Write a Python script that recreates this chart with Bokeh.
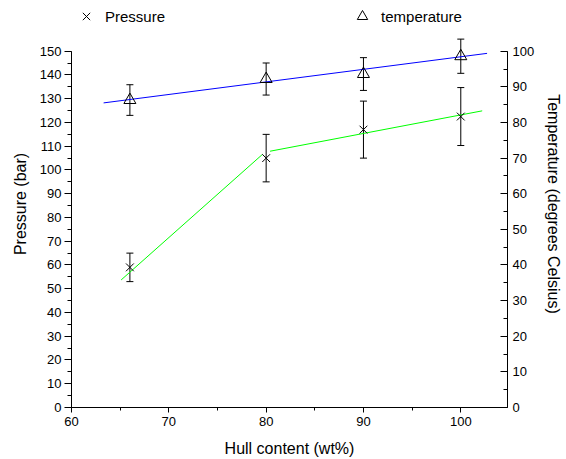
from bokeh.plotting import figure
from bokeh.models import (LinearAxis, Range1d, ColumnDataSource, Whisker, TeeHead,
                          Legend, LegendItem, SingleIntervalTicker)
from bokeh.embed import file_html
from bokeh.resources import INLINE

# ---- data ----
hull = [66, 80, 90, 100]
pressure = [59, 105, 117, 122.5]
pressure_err = [6, 10, 12, 12.2]
temperature = [86.3, 92.2, 93.6, 98.6]
temperature_err = [4.3, 4.5, 4.6, 4.8]

temp_fit_x = [63.3, 102.7]
temp_fit_y = [85.5, 99.4]
press_fit1_x = [65.1, 79.6]
press_fit1_y = [53.7, 106.5]
press_fit2_x = [80.4, 102.2]
press_fit2_y = [107.9, 124.9]

x_label = "Hull content (wt%)"
y_label = "Pressure (bar)"
y2_label = "Temperature (degrees Celsius)"

FONT = "Liberation Sans"

# the frame reaches to the top of the canvas (room for the legend);
# the axes themselves are bounded to 0-150 and 0-100
P_MAX = 150.0
T_MAX = 100.0
TOP_EXTRA = 406.7 / 356.0  # frame height / axis height ratio

p = figure(width=566, height=459, output_backend="svg", toolbar_location=None,
           x_range=Range1d(60, 104.8), y_range=Range1d(0, P_MAX * TOP_EXTRA),
           min_border_left=71, min_border_right=59, min_border_top=0, min_border_bottom=52)
p.extra_y_ranges = {"temp": Range1d(0, T_MAX * TOP_EXTRA)}
p.grid.visible = False
p.outline_line_color = None
p.background_fill_color = "white"

# fit lines
p.line(temp_fit_x, temp_fit_y, color="#0000ff", line_width=1, y_range_name="temp")
p.line(press_fit1_x, press_fit1_y, color="#00ff00", line_width=1)
p.line(press_fit2_x, press_fit2_y, color="#00ff00", line_width=1)

src_p = ColumnDataSource(dict(x=hull, y=pressure,
                              lo=[v - e for v, e in zip(pressure, pressure_err)],
                              hi=[v + e for v, e in zip(pressure, pressure_err)]))
src_t = ColumnDataSource(dict(x=hull, y=temperature,
                              lo=[v - e for v, e in zip(temperature, temperature_err)],
                              hi=[v + e for v, e in zip(temperature, temperature_err)]))

for src, rn in ((src_p, "default"), (src_t, "temp")):
    w = Whisker(source=src, base="x", lower="lo", upper="hi", dimension="height",
                line_color="black", line_width=1,
                upper_head=TeeHead(size=7, line_color="black", line_width=1),
                lower_head=TeeHead(size=7, line_color="black", line_width=1))
    if rn != "default":
        w.y_range_name = rn
    p.add_layout(w)

r_p = p.scatter("x", "y", source=src_p, marker="x", size=11, line_color="black", line_width=1)
r_t = p.scatter("x", "y", source=src_t, marker="triangle", size=12, line_color="black",
                fill_color="white", fill_alpha=0.0, line_width=1, y_range_name="temp")

# axes
xa = p.xaxis[0]
xa.ticker = SingleIntervalTicker(interval=10, num_minor_ticks=2)
xa.major_tick_out = 5
xa.major_tick_in = 0
xa.minor_tick_out = 3
xa.minor_tick_in = 0
xa.major_label_standoff = 4
xa.axis_label = x_label
xa.axis_label_standoff = 11

ya = p.yaxis[0]
ya.ticker = SingleIntervalTicker(interval=10, num_minor_ticks=2)
ya.bounds = (0, P_MAX)
ya.major_tick_out = 7
ya.major_tick_in = 0
ya.minor_tick_out = 4
ya.minor_tick_in = 0
ya.major_label_standoff = 3
ya.axis_label = y_label
ya.axis_label_standoff = 8

ra = LinearAxis(y_range_name="temp",
                ticker=SingleIntervalTicker(interval=10, num_minor_ticks=2),
                bounds=(0, T_MAX))
ra.major_tick_out = 0
ra.major_tick_in = 7
ra.minor_tick_out = 0
ra.minor_tick_in = 4
ra.major_label_standoff = 5
ra.axis_label = y2_label
ra.axis_label_standoff = 8
p.add_layout(ra, "right")

for ax in (xa, ya, ra):
    ax.axis_line_color = "black"
    ax.major_tick_line_color = "black"
    ax.minor_tick_line_color = "black"
    ax.major_label_text_font = FONT
    ax.major_label_text_font_size = "13px"
    ax.major_label_text_color = "black"
    ax.axis_label_text_font = FONT
    ax.axis_label_text_font_size = "16px"
    ax.axis_label_text_font_style = "normal"
    ax.axis_label_text_color = "black"

legend = Legend(items=[LegendItem(label="Pressure", renderers=[r_p]),
                       LegendItem(label="temperature", renderers=[r_t])],
                orientation="horizontal", location=(2, 378),
                glyph_width=26, glyph_height=26, label_standoff=6, spacing=184,
                padding=0, margin=0, border_line_color=None, background_fill_alpha=0,
                label_text_font=FONT, label_text_font_size="15px", label_text_color="black")
p.add_layout(legend, "center")

open("out.html", "w").write(file_html(p, INLINE))
